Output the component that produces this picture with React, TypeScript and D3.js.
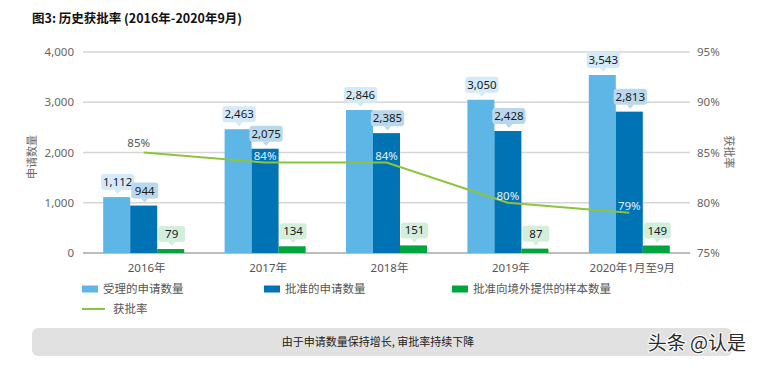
import React from 'react';
import * as d3 from 'd3';

const categories = ['2016年', '2017年', '2018年', '2019年', '2020年1月至9月'];
const received = [1112, 2463, 2846, 3050, 3543];
const approved = [944, 2075, 2385, 2428, 2813];
const overseas = [79, 134, 151, 87, 149];
const approvalRate = [85, 84, 84, 80, 79];
const leftTicks = [0, 1000, 2000, 3000, 4000];
const rightTicks = [75, 80, 85, 90, 95];

const seriesNames = ['受理的申请数量', '批准的申请数量', '批准向境外提供的样本数量'];
const colors = ['#5eb6e6', '#0073b5', '#00a53e'];
const boxColors = ['#d5eaf8', '#bad8ed', '#d3efdc'];
const lineColor = '#8cc43c';

const font = '"Noto Sans", "Noto Sans CJK SC", sans-serif';
const cjk = '"Noto Sans CJK SC", "Noto Sans", sans-serif';

const W = 757;
const H = 365;
const left = 83;
const right = 690;
const top = 52;
const bottom = 253;

function textWidth(s: string, size: number) {
  let w = 0;
  for (const c of s) w += c === ',' ? 0.26 : 0.572;
  return w * size;
}

export default function App() {
  const x0 = d3.scaleBand<string>().domain(categories).range([left, right]);
  const x1 = d3.scaleBand<number>().domain([0, 1, 2]).range([0, 81]);
  const y = d3.scaleLinear().domain([0, 4000]).range([bottom, top]);
  const yr = d3.scaleLinear().domain([75, 95]).range([bottom, top]);
  const fmt = d3.format(',');
  const series = [received, approved, overseas];

  const cx = (c: string) => (x0(c) ?? 0) + x0.bandwidth() / 2;
  const gx = (c: string) => cx(c) - 40.5;

  const line = d3
    .line<number>()
    .x((_, i) => cx(categories[i]))
    .y(d => yr(d));

  return (
    <svg width={W} height={H} style={{ position: 'absolute', left: 0, top: 0 }}>
      <rect width={W} height={H} fill="#fff" />
      <text x={32} y={23} fontFamily={cjk} fontSize={12.5} fontWeight="bold" fill="#111">
        图3: 历史获批率 (2016年-2020年9月)
      </text>

      {leftTicks.map((t, i) => (
        <g key={t}>
          <line
            x1={left}
            x2={right}
            y1={y(t)}
            y2={y(t)}
            stroke={i === 0 ? '#bdbdbd' : '#d6d6d6'}
            strokeWidth={i === 0 ? 2 : 1.5}
          />
          <text x={74} y={y(t) + 4} textAnchor="end" fontFamily={font} fontSize={11.5} fill="#666">
            {fmt(t)}
          </text>
        </g>
      ))}
      {rightTicks.map(t => (
        <text key={t} x={697} y={yr(t) + 4} fontFamily={font} fontSize={11.5} fill="#666">
          {t}%
        </text>
      ))}
      <text
        transform="translate(36,157) rotate(-90)"
        textAnchor="middle"
        fontFamily={cjk}
        fontSize={11}
        fill="#666"
      >
        申请数量
      </text>
      <text
        transform="translate(725,152) rotate(90)"
        textAnchor="middle"
        fontFamily={cjk}
        fontSize={11}
        fill="#666"
      >
        获批率
      </text>

      {series.map((vals, s) =>
        vals.map((v, i) => {
          const c = categories[i];
          const bx = gx(c) + (x1(s) ?? 0);
          const bw = x1.bandwidth();
          return (
            <rect key={`${s}-${i}`} x={bx} y={y(v)} width={bw} height={bottom - y(v)} fill={colors[s]} />
          );
        })
      )}

      <path d={line(approvalRate) ?? ''} fill="none" stroke={lineColor} strokeWidth={2} />
      {approvalRate.map((v, i) => (
        <text
          key={i}
          x={cx(categories[i]) - (i === 0 ? 5 : 0)}
          y={yr(v) - (i === 0 ? 6 : 3)}
          textAnchor="middle"
          fontFamily={font}
          fontSize={11.5}
          fill={i === 0 ? '#555' : '#e4f1fb'}
        >
          {v}%
        </text>
      ))}

      {series.map((vals, s) =>
        vals.map((v, i) => {
          const c = categories[i];
          const bx = gx(c) + (x1(s) ?? 0) + x1.bandwidth() / 2 + 1;
          const label = fmt(v);
          const bw = Math.max(27, textWidth(label, 11.5) + 4);
          const ty = y(v);
          const b = ty - 7;
          return (
            <g key={`l-${s}-${i}`}>
              <rect x={bx - bw / 2} y={b - 16} width={bw} height={16} rx={3} fill={boxColors[s]} />
              <path d={`M${bx - 3.5},${b} L${bx + 3.5},${b} L${bx},${b + 4} Z`} fill={boxColors[s]} />
              <text x={bx} y={b - 4} textAnchor="middle" fontFamily={font} fontSize={11.5} fill="#1a1a1a">
                {label}
              </text>
            </g>
          );
        })
      )}

      {categories.map(c => (
        <text key={c} x={cx(c) + 3} y={272} textAnchor="middle" fontFamily={font} fontSize={11.5} fill="#555">
          {c}
        </text>
      ))}

      {seriesNames.map((n, i) => {
        const lx = [82, 264, 452][i];
        return (
          <g key={n}>
            <rect x={lx} y={285.5} width={16} height={7} fill={colors[i]} />
            <text x={lx + 21} y={293} fontFamily={cjk} fontSize={11.5} fill="#555">
              {n}
            </text>
          </g>
        );
      })}
      <line x1={82} x2={105} y1={309} y2={309} stroke={lineColor} strokeWidth={2} />
      <text x={113} y={313} fontFamily={cjk} fontSize={11.5} fill="#555">
        获批率
      </text>

      <rect x={32} y={328} width={700} height={28} rx={6} fill="#e1e1e1" />
      <text x={378} y={346} textAnchor="middle" fontFamily={cjk} fontSize={11} fill="#222">
        由于申请数量保持增长, 审批率持续下降
      </text>
      <text
        x={746}
        y={350}
        textAnchor="end"
        fontFamily={cjk}
        fontSize={19}
        fill="#2a2a2a"
        stroke="#fff"
        strokeWidth={2}
        paintOrder="stroke"
      >
        头条 @认是
      </text>
    </svg>
  );
}
